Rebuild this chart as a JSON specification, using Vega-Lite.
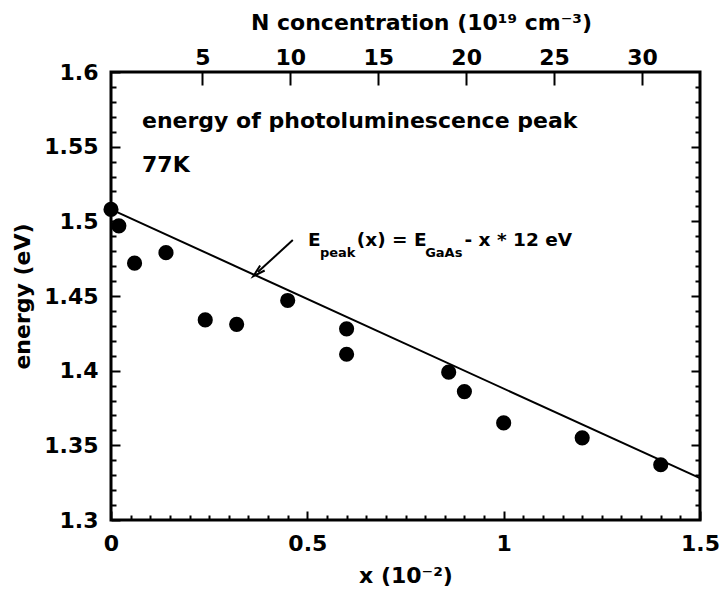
{
  "$schema": "https://vega.github.io/schema/vega-lite/v6.json",
  "width": 589,
  "height": 448,
  "autosize": "none",
  "padding": {"left": 111, "top": 72, "right": 20, "bottom": 76},
  "background": "white",
  "config": {
    "font": "DejaVu Sans",
    "view": {"stroke": "black", "strokeWidth": 3},
    "axis": {"domain": false, "grid": false, "tickColor": "black", "tickWidth": 2, "labelColor": "black", "titleColor": "black", "labelFont": "DejaVu Sans", "titleFont": "DejaVu Sans", "labelFontSize": 22, "labelFontWeight": "bold", "titleFontSize": 22, "titleFontWeight": "bold"}
  },
  "datasets": {
    "pts": [
      {"x": 0.0, "E": 1.508},
      {"x": 0.02, "E": 1.497},
      {"x": 0.06, "E": 1.472},
      {"x": 0.14, "E": 1.479},
      {"x": 0.24, "E": 1.434},
      {"x": 0.32, "E": 1.431},
      {"x": 0.45, "E": 1.447},
      {"x": 0.6, "E": 1.428},
      {"x": 0.6, "E": 1.411},
      {"x": 0.86, "E": 1.399},
      {"x": 0.9, "E": 1.386},
      {"x": 1.0, "E": 1.365},
      {"x": 1.2, "E": 1.355},
      {"x": 1.4, "E": 1.337}
    ],
    "fit": [
      {"x": 0.0, "E": 1.508},
      {"x": 1.5, "E": 1.328}
    ],
    "labels": [
      {"x": 0.079, "E": 1.567, "text": "energy of photoluminescence peak", "size": 22},
      {"x": 0.079, "E": 1.538, "text": "77K", "size": 22},
      {"x": 0.502, "E": 1.4875, "text": "E", "size": 18.5},
      {"x": 0.532, "E": 1.479, "text": "peak", "size": 13},
      {"x": 0.626, "E": 1.4875, "text": "(x) = E", "size": 18.5},
      {"x": 0.8, "E": 1.479, "text": "GaAs", "size": 13},
      {"x": 0.9, "E": 1.4875, "text": "- x * 12 eV", "size": 18.5}
    ],
    "arrow": [
      {"x": 0.463, "E": 1.4875, "x2": 0.374, "E2": 1.466}
    ],
    "xr": [{"x": 0}, {"x": 1.5}],
    "yr": [{"E": 1.3}, {"E": 1.6}],
    "nr": [{"N": 0}, {"N": 33}]
  },
  "layer": [
    {
      "layer": [
        {
          "data": {"name": "fit"},
          "mark": {"type": "line", "color": "black", "strokeWidth": 2},
          "encoding": {
            "x": {"field": "x", "type": "quantitative", "scale": {"domain": [0, 1.5], "nice": false, "zero": false},
              "axis": {"orient": "bottom", "title": "x (10⁻²)", "values": [0, 0.5, 1, 1.5], "format": ".1~f", "labelFlush": false,
                "tickSize": -9, "labelPadding": 22, "titleY": 55, "titleBaseline": "middle"}},
            "y": {"field": "E", "type": "quantitative", "scale": {"domain": [1.3, 1.6], "nice": false, "zero": false},
              "axis": {"orient": "left", "title": "energy (eV)", "values": [1.3, 1.35, 1.4, 1.45, 1.5, 1.55, 1.6], "format": ".2~f", "labelFlush": false,
                "tickSize": -9, "labelPadding": 22, "titleX": -89, "titleY": 224, "titleAngle": -90, "titleAlign": "center", "titleBaseline": "middle"}}
          }
        },
        {
          "data": {"name": "pts"},
          "mark": {"type": "point", "filled": true, "color": "black", "opacity": 1, "size": 230, "shape": "circle"},
          "encoding": {
            "x": {"field": "x", "type": "quantitative"},
            "y": {"field": "E", "type": "quantitative"}
          }
        },
        {
          "data": {"name": "arrow"},
          "mark": {"type": "rule", "color": "black", "strokeWidth": 2},
          "encoding": {
            "x": {"field": "x", "type": "quantitative"},
            "y": {"field": "E", "type": "quantitative"},
            "x2": {"field": "x2"},
            "y2": {"field": "E2"}
          }
        },
        {
          "data": {"name": "arrow"},
          "mark": {"type": "point", "shape": "M -0.55 1 L 0 -1 L 0.55 1", "filled": false, "color": "black", "strokeWidth": 2, "size": 150, "angle": 228, "opacity": 1},
          "encoding": {
            "x": {"field": "x2", "type": "quantitative"},
            "y": {"field": "E2", "type": "quantitative"}
          }
        },
        {
          "data": {"name": "labels"},
          "mark": {"type": "text", "align": "left", "baseline": "middle", "color": "black", "fontWeight": "bold", "font": "DejaVu Sans"},
          "encoding": {
            "x": {"field": "x", "type": "quantitative"},
            "y": {"field": "E", "type": "quantitative"},
            "text": {"field": "text"},
            "size": {"field": "size", "type": "quantitative", "scale": null}
          }
        }
      ]
    },
    {
      "data": {"name": "xr"},
      "mark": {"type": "rule", "opacity": 0},
      "encoding": {
        "x": {"field": "x", "type": "quantitative", "scale": {"domain": [0, 1.5], "nice": false, "zero": false},
          "axis": {"orient": "bottom", "title": null, "labels": false, "tickSize": -5,
            "values": [0.05,0.1,0.15,0.2,0.25,0.3,0.35,0.4,0.45]}}
      }
    },
    {
      "data": {"name": "xr"},
      "mark": {"type": "rule", "opacity": 0},
      "encoding": {
        "x": {"field": "x", "type": "quantitative", "scale": {"domain": [0, 1.5], "nice": false, "zero": false},
          "axis": {"orient": "bottom", "title": null, "labels": false, "tickSize": -5,
            "values": [0.55,0.6,0.65,0.7,0.75,0.8,0.85,0.9,0.95]}}
      }
    },
    {
      "data": {"name": "xr"},
      "mark": {"type": "rule", "opacity": 0},
      "encoding": {
        "x": {"field": "x", "type": "quantitative", "scale": {"domain": [0, 1.5], "nice": false, "zero": false},
          "axis": {"orient": "bottom", "title": null, "labels": false, "tickSize": -5,
            "values": [1.05,1.1,1.15,1.2,1.25,1.3,1.35,1.4,1.45]}}
      }
    },
    {
      "data": {"name": "yr"},
      "mark": {"type": "rule", "opacity": 0},
      "encoding": {
        "y": {"field": "E", "type": "quantitative", "scale": {"domain": [1.3, 1.6], "nice": false, "zero": false},
          "axis": {"orient": "left", "title": null, "labels": false, "tickSize": -5,
            "values": [1.31,1.32,1.33,1.34,1.36,1.37,1.38,1.39,1.41,1.42,1.43,1.44]}}
      }
    },
    {
      "data": {"name": "yr"},
      "mark": {"type": "rule", "opacity": 0},
      "encoding": {
        "y": {"field": "E", "type": "quantitative", "scale": {"domain": [1.3, 1.6], "nice": false, "zero": false},
          "axis": {"orient": "left", "title": null, "labels": false, "tickSize": -5,
            "values": [1.46,1.47,1.48,1.49,1.51,1.52,1.53,1.54,1.56,1.57,1.58,1.59]}}
      }
    },
    {
      "data": {"name": "yr"},
      "mark": {"type": "rule", "opacity": 0},
      "encoding": {
        "y": {"field": "E", "type": "quantitative", "scale": {"domain": [1.3, 1.6], "nice": false, "zero": false},
          "axis": {"orient": "right", "title": null, "labels": false, "tickSize": -5,
            "values": [1.31,1.32,1.33,1.34,1.36,1.37,1.38,1.39,1.41,1.42,1.43,1.44]}}
      }
    },
    {
      "data": {"name": "yr"},
      "mark": {"type": "rule", "opacity": 0},
      "encoding": {
        "y": {"field": "E", "type": "quantitative", "scale": {"domain": [1.3, 1.6], "nice": false, "zero": false},
          "axis": {"orient": "right", "title": null, "labels": false, "tickSize": -5,
            "values": [1.46,1.47,1.48,1.49,1.51,1.52,1.53,1.54,1.56,1.57,1.58,1.59]}}
      }
    },
    {
      "data": {"name": "yr"},
      "mark": {"type": "rule", "opacity": 0},
      "encoding": {
        "y": {"field": "E", "type": "quantitative", "scale": {"domain": [1.3, 1.6], "nice": false, "zero": false},
          "axis": {"orient": "right", "title": null, "labels": false, "tickSize": -9,
            "values": [1.35, 1.4, 1.45, 1.5, 1.55]}}
      }
    },
    {
      "data": {"name": "nr"},
      "mark": {"type": "rule", "opacity": 0},
      "encoding": {
        "x": {"field": "N", "type": "quantitative", "scale": {"domain": [-0.2, 33.3], "nice": false, "zero": false},
          "axis": {"orient": "top", "title": "N concentration (10¹⁹ cm⁻³)", "values": [5, 10, 15, 20, 25, 30], "format": "d",
            "tickSize": -13, "labelPadding": 16, "titleY": -50, "titleX": 310, "titleAlign": "center", "titleBaseline": "middle"}}
      }
    }
  ],
  "resolve": {"scale": {"x": "independent", "y": "independent"}}
}
